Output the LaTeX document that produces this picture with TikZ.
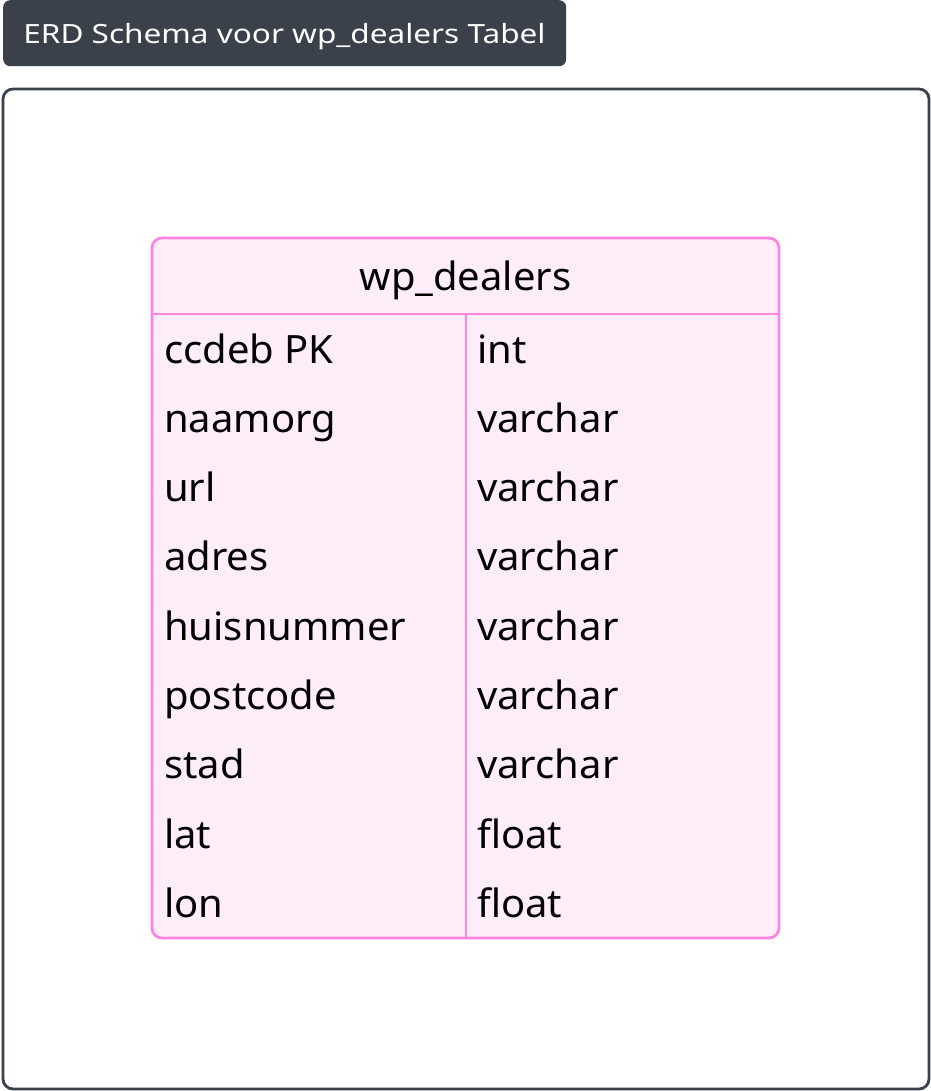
\documentclass[tikz,border=0pt]{standalone}
\usepackage{fontspec}
\setmainfont{Noto Sans}
\newfontfamily\titlefont[FakeStretch=1.19]{Noto Sans}
\newfontfamily\cellfont[FakeStretch=1.025]{Noto Sans}
\definecolor{slate}{HTML}{3B414B}
\definecolor{pinkline}{HTML}{FF85E0}
\definecolor{pinkfill}{HTML}{FFEEF9}
\begin{document}
\begin{tikzpicture}[x=1pt,y=-1pt,
  titlebox/.style={fill=slate, draw=none, rounded corners=7pt, anchor=north west, inner sep=0pt},
  titletext/.style={text=white, font=\titlefont\fontsize{26.5}{30}\selectfont, anchor=base, inner sep=0pt},
  framebox/.style={draw=slate, line width=2.8pt, rounded corners=10pt},
  tablebox/.style={draw=pinkline, fill=pinkfill, line width=2.8pt, rounded corners=10pt},
  tableline/.style={draw=pinkline, line width=2.8pt},
  hdrtext/.style={font=\cellfont\fontsize{39}{44}\selectfont, anchor=base, inner sep=0pt},
  celltext/.style={font=\cellfont\fontsize{39}{44}\selectfont, anchor=base west, inner sep=0pt}]
\useasboundingbox (0,0) rectangle (930,1091);
\fill[white] (0,0) rectangle (930,1091);
% title
\node[titlebox, minimum width=563pt, minimum height=66pt] (tbox) at (3,0) {};
\node[titletext] (ttext) at (284.5,44) {ERD Schema voor wp\_dealers Tabel};
% outer frame
\draw[framebox] (3,89) rectangle (929,1089);
% table
\draw[tablebox] (152,238) rectangle (779,938);
\draw[tableline] (152,314) -- (779,314);
\draw[tableline] (466,314) -- (466,938);
\node[hdrtext] (hdr) at (465.5,290) {wp\_dealers};
\foreach \i/\n/\t in {0/ccdeb PK/int,1/naamorg/varchar,2/url/varchar,3/adres/varchar,4/huisnummer/varchar,5/postcode/varchar,6/stad/varchar,7/lat/float,8/lon/float}{
  \node[celltext] (n\i) at (164,363+69.33*\i) {\n};
  \node[celltext] (t\i) at (477,363+69.33*\i) {\t};
}
\end{tikzpicture}
\end{document}
